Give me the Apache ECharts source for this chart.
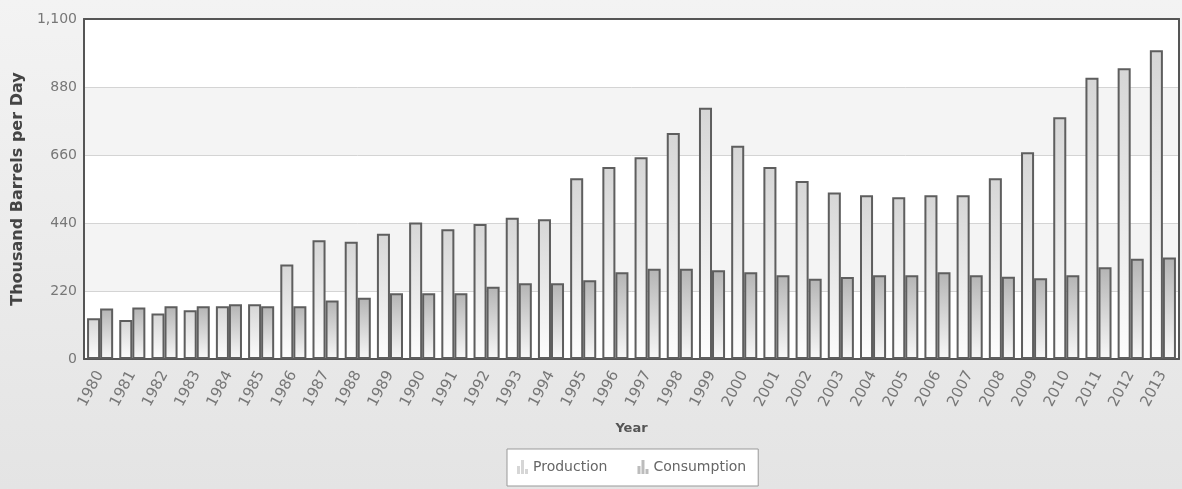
<!DOCTYPE html>
<html>
<head>
<meta charset="utf-8">
<script src="https://cdn.jsdelivr.net/npm/echarts@6/dist/echarts.min.js"></script>
<style>
  html, body { margin: 0; padding: 0; }
  #chart { width: 1182px; height: 489px; }
</style>
</head>
<body>
<div id="chart"></div>
<script>
// Years shown on the category axis
const years = ['1980','1981','1982','1983','1984','1985','1986','1987','1988','1989',
  '1990','1991','1992','1993','1994','1995','1996','1997','1998','1999',
  '2000','2001','2002','2003','2004','2005','2006','2007','2008','2009',
  '2010','2011','2012','2013'];

// Oil production, thousand barrels per day
const production = [132,126,147,158,171,177,306,384,379,405,
  442,420,437,457,452,585,621,653,731,813,
  690,621,576,539,530,523,530,530,585,669,
  782,910,941,999];

// Oil consumption, thousand barrels per day
const consumption = [163,167,171,171,177,171,171,189,198,213,
  213,213,234,245,245,255,281,292,292,287,
  281,271,260,265,271,271,281,271,266,261,
  271,297,324,328];

// Value axis ticks
const yMin = 0, yMax = 1100, yStep = 220;

const chart = echarts.init(document.getElementById('chart'), null, { renderer: 'canvas' });

const barIcon = 'path://M0,14 L0,6 L3,6 L3,14 Z M4,14 L4,0 L7,0 L7,14 Z M8,14 L8,9 L11,9 L11,14 Z';

function grad(top, bottom) {
  return new echarts.graphic.LinearGradient(0, 0, 0, 1, [
    { offset: 0, color: top },
    { offset: 1, color: bottom }
  ]);
}

const frameLine = { show: true, onZero: false, lineStyle: { color: '#555555', width: 2 } };

chart.setOption({
  animation: false,
  backgroundColor: grad('#f3f3f3', '#e4e4e4'),
  textStyle: { fontFamily: 'DejaVu Sans' },
  grid: {
    left: 84, right: 3, top: 19, bottom: 130,
    backgroundColor: '#ffffff'
  },
  legend: {
    data: [
      { name: 'Production', icon: barIcon, itemStyle: { color: '#d6d6d6', borderWidth: 0 } },
      { name: 'Consumption', icon: barIcon, itemStyle: { color: '#bcbcbc', borderWidth: 0 } }
    ],
    left: 507, top: 449,
    padding: [11, 12, 12, 10],
    itemWidth: 11, itemHeight: 14, itemGap: 30,
    backgroundColor: '#ffffff',
    borderColor: '#999999',
    borderWidth: 1,
    textStyle: { color: '#666666', fontSize: 14, fontFamily: 'DejaVu Sans' }
  },
  xAxis: [
    {
      type: 'category',
      data: years,
      name: 'Year',
      nameLocation: 'middle',
      nameGap: 63,
      nameTextStyle: { fontWeight: 'bold', fontSize: 13, color: '#555555' },
      axisLine: frameLine,
      axisTick: { show: false },
      axisLabel: { rotate: 62, margin: 13, color: '#777777', fontSize: 15, interval: 0 }
    },
    {
      // top edge of the plot frame
      type: 'category',
      data: years,
      position: 'top',
      axisLine: frameLine,
      axisTick: { show: false },
      axisLabel: { show: false }
    }
  ],
  yAxis: [
    {
      type: 'value',
      min: yMin, max: yMax, interval: yStep,
      name: 'Thousand Barrels per Day',
      nameLocation: 'middle',
      nameGap: 52,
      nameTextStyle: { fontWeight: 'bold', fontSize: 16, color: '#444444' },
      axisLine: frameLine,
      axisTick: { show: false },
      axisLabel: {
        color: '#777777', fontSize: 14, margin: 7,
        formatter: v => v.toLocaleString('en-US')
      },
      splitLine: { lineStyle: { color: '#d4d4d4', width: 1 } },
      splitArea: { show: true, areaStyle: { color: ['#ffffff', '#f4f4f4'] } }
    },
    {
      // right edge of the plot frame
      type: 'value',
      min: yMin, max: yMax, interval: yStep,
      position: 'right',
      axisLine: frameLine,
      axisTick: { show: false },
      axisLabel: { show: false },
      splitLine: { show: false }
    }
  ],
  series: [
    {
      name: 'Production',
      type: 'bar',
      data: production,
      barGap: '0%',
      barCategoryGap: '19%',
      itemStyle: {
        color: grad('#d6d6d6', '#fdfdfd'),
        borderColor: '#5e5e5e',
        borderWidth: 2
      }
    },
    {
      name: 'Consumption',
      type: 'bar',
      data: consumption,
      itemStyle: {
        color: grad('#b4b4b4', '#f8f8f8'),
        borderColor: '#5e5e5e',
        borderWidth: 2
      }
    }
  ]
});
</script>
</body>
</html>
